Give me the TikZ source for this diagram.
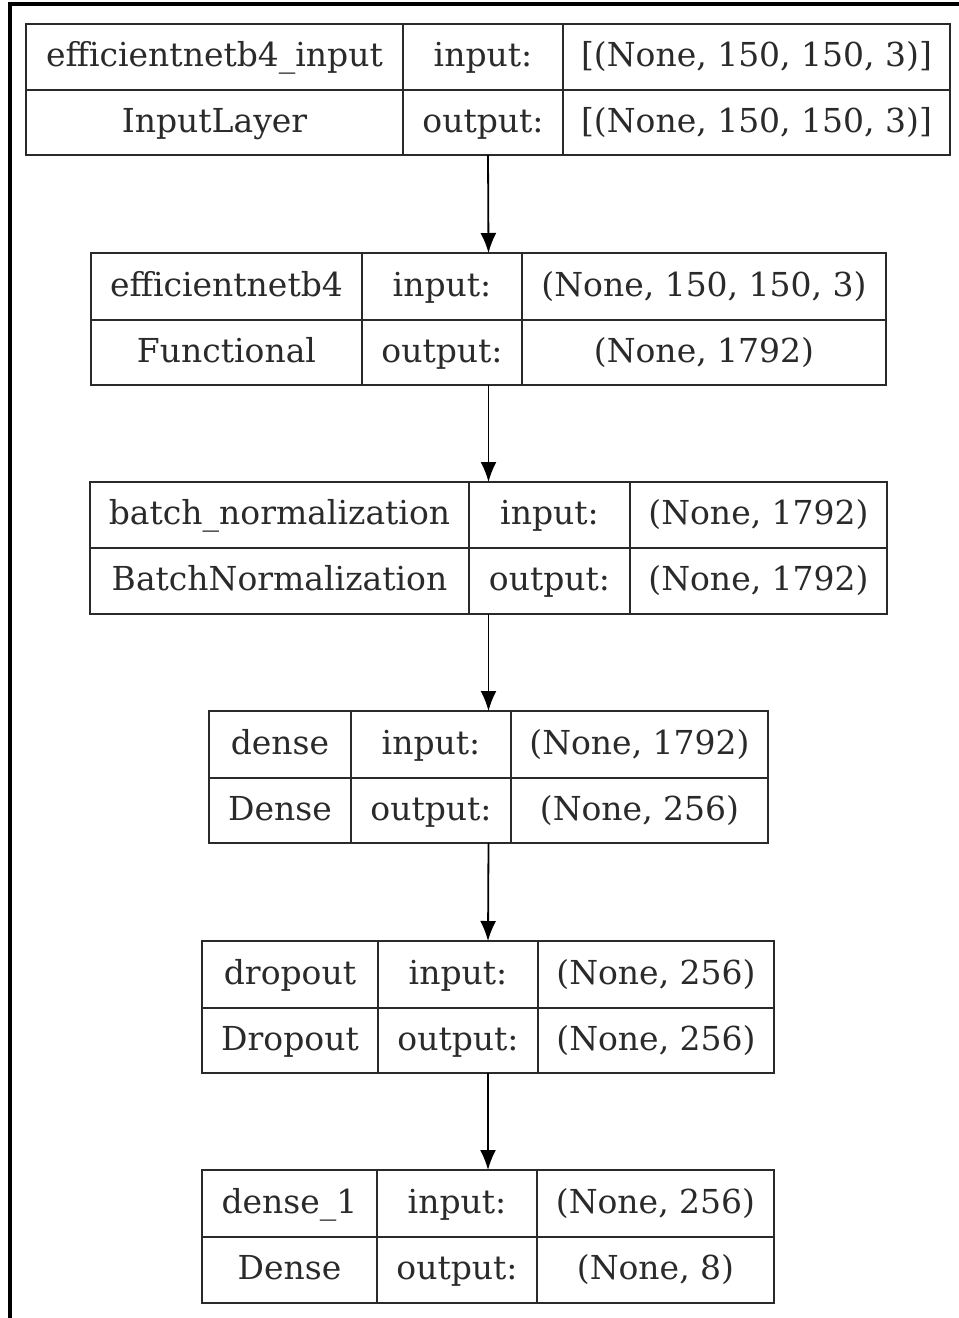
\documentclass[tikz,border=0pt]{standalone}
\usepackage{fontspec}
\setmainfont{DejaVu Serif}
\usetikzlibrary{arrows.meta}
\definecolor{ink}{HTML}{2A2A2A}
\begin{document}
\begin{tikzpicture}[x=1pt,y=-1pt,
  cell/.style={draw=ink,line width=1.8pt,inner sep=0pt,outer sep=0pt,text=ink,
    font=\fontsize{33}{38}\selectfont,text height=25pt,text depth=6pt},
  layerbox/.style={draw=ink,line width=2pt,inner sep=0pt,outer sep=0pt},
  flow/.style={draw=black,line width=1.8pt,-{Latex[length=20pt,width=16pt]}},
  frame/.style={draw=black,line width=3.5pt}]
\useasboundingbox (0,0) rectangle (959,1318);
\newcommand\cellbox[6]{%
  \pgfmathsetmacro\cx{(#2+#4)/2}\pgfmathsetmacro\cy{(#3+#5)/2}%
  \pgfmathsetmacro\cw{#4-#2}\pgfmathsetmacro\ch{#5-#3}%
  \node[cell,minimum width=\cw pt,minimum height=\ch pt] (#1) at (\cx,\cy) {#6};}
\newcommand\layerbox[5]{%
  \pgfmathsetmacro\cx{(#2+#4)/2}\pgfmathsetmacro\cy{(#3+#5)/2}%
  \pgfmathsetmacro\cw{#4-#2}\pgfmathsetmacro\ch{#5-#3}%
  \node[layerbox,minimum width=\cw pt,minimum height=\ch pt] (#1) at (\cx,\cy) {};}
% frame
\coordinate (ftl) at (10,4);
\coordinate (ftr) at (959,4);
\coordinate (fbl) at (10,1318);
\draw[frame] (ftr) -- (ftl) -- (fbl);
% layer 1
\layerbox{L1}{26}{24}{950}{155}
\cellbox{L1a}{26}{24}{403}{90}{efficientnetb4\_input}
\cellbox{L1b}{403}{24}{563}{90}{input:}
\cellbox{L1c}{563}{24}{950}{90}{[(None, 150, 150, 3)]}
\cellbox{L1d}{26}{90}{403}{155}{InputLayer}
\cellbox{L1e}{403}{90}{563}{155}{output:}
\cellbox{L1f}{563}{90}{950}{155}{[(None, 150, 150, 3)]}
% layer 2
\layerbox{L2}{91}{253}{886}{385}
\cellbox{L2a}{91}{253}{362}{320}{efficientnetb4}
\cellbox{L2b}{362}{253}{522}{320}{input:}
\cellbox{L2c}{522}{253}{886}{320}{(None, 150, 150, 3)}
\cellbox{L2d}{91}{320}{362}{385}{Functional}
\cellbox{L2e}{362}{320}{522}{385}{output:}
\cellbox{L2f}{522}{320}{886}{385}{(None, 1792)}
% layer 3
\layerbox{L3}{90}{482}{887}{614}
\cellbox{L3a}{90}{482}{469}{548}{batch\_normalization}
\cellbox{L3b}{469}{482}{630}{548}{input:}
\cellbox{L3c}{630}{482}{887}{548}{(None, 1792)}
\cellbox{L3d}{90}{548}{469}{614}{BatchNormalization}
\cellbox{L3e}{469}{548}{630}{614}{output:}
\cellbox{L3f}{630}{548}{887}{614}{(None, 1792)}
% layer 4
\layerbox{L4}{209}{711}{768}{843}
\cellbox{L4a}{209}{711}{351}{778}{dense}
\cellbox{L4b}{351}{711}{511}{778}{input:}
\cellbox{L4c}{511}{711}{768}{778}{(None, 1792)}
\cellbox{L4d}{209}{778}{351}{843}{Dense}
\cellbox{L4e}{351}{778}{511}{843}{output:}
\cellbox{L4f}{511}{778}{768}{843}{(None, 256)}
% layer 5
\layerbox{L5}{202}{941}{774}{1073}
\cellbox{L5a}{202}{941}{378}{1008}{dropout}
\cellbox{L5b}{378}{941}{538}{1008}{input:}
\cellbox{L5c}{538}{941}{774}{1008}{(None, 256)}
\cellbox{L5d}{202}{1008}{378}{1073}{Dropout}
\cellbox{L5e}{378}{1008}{538}{1073}{output:}
\cellbox{L5f}{538}{1008}{774}{1073}{(None, 256)}
% layer 6
\layerbox{L6}{202}{1170}{774}{1303}
\cellbox{L6a}{202}{1170}{377}{1237}{dense\_1}
\cellbox{L6b}{377}{1170}{537}{1237}{input:}
\cellbox{L6c}{537}{1170}{774}{1237}{(None, 256)}
\cellbox{L6d}{202}{1237}{377}{1303}{Dense}
\cellbox{L6e}{377}{1237}{537}{1303}{output:}
\cellbox{L6f}{537}{1237}{774}{1303}{(None, 8)}
% connectors
\draw[flow] (L1.south) -- (L2.north);
\draw[flow] (L2.south) -- (L3.north);
\draw[flow] (L3.south) -- (L4.north);
\draw[flow] (L4.south) -- (L5.north);
\draw[flow] (L5.south) -- (L6.north);
\end{tikzpicture}
\end{document}
